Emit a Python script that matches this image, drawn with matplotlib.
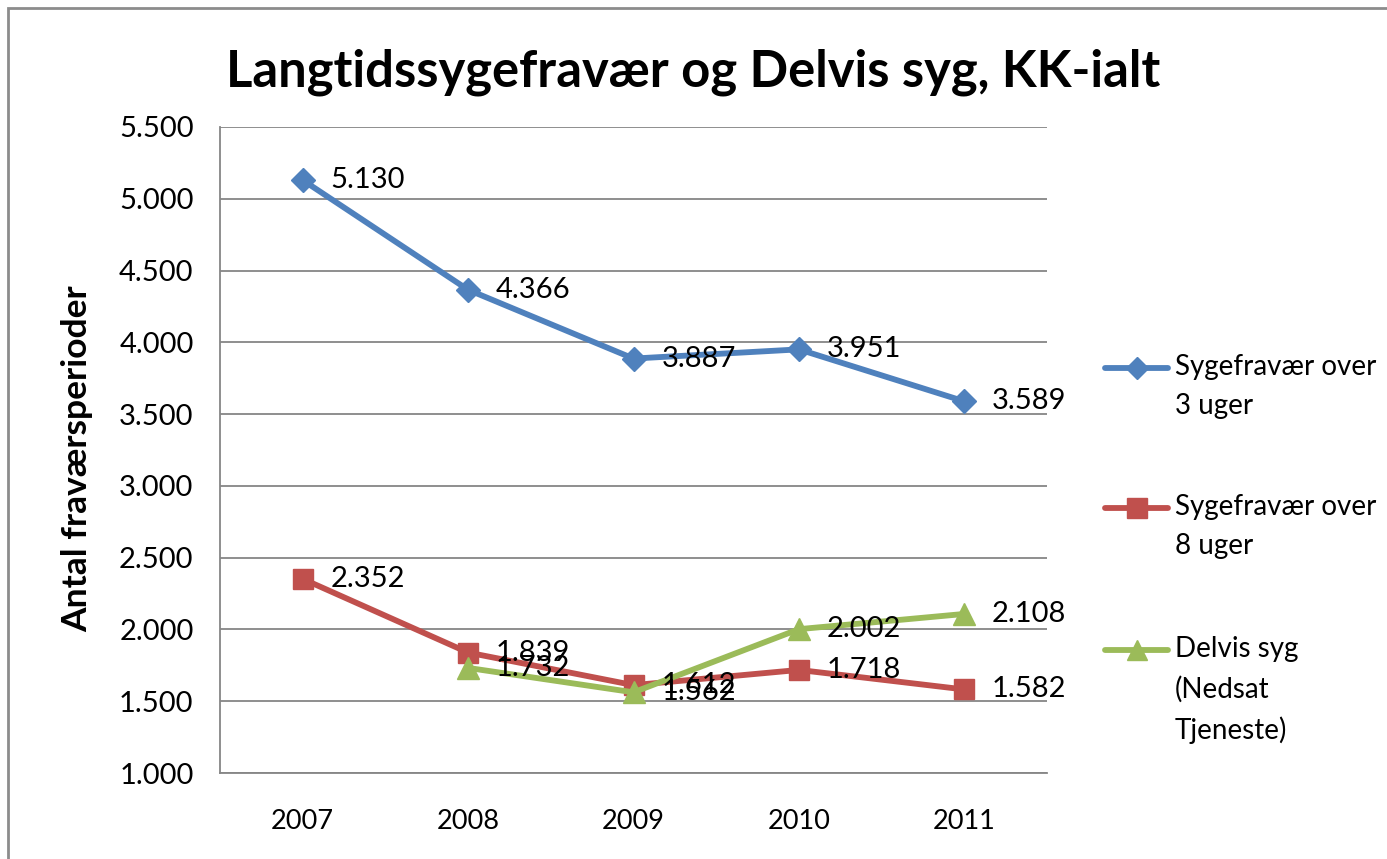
import numpy as np
import matplotlib
matplotlib.use("Agg")
import matplotlib.pyplot as plt
from matplotlib.lines import Line2D
from matplotlib.patches import Rectangle
from matplotlib.ticker import FuncFormatter

plt.rcParams['font.family'] = ['Lato', 'DejaVu Sans']

years = ['2007', '2008', '2009', '2010', '2011']
over_3_uger = [5130, 4366, 3887, 3951, 3589]
over_8_uger = [2352, 1839, 1612, 1718, 1582]
delvis_syg = [np.nan, 1732, 1562, 2002, 2108]

series_names = ['Sygefravær over\n3 uger', 'Sygefravær over\n8 uger', 'Delvis syg\n(Nedsat\nTjeneste)']
colors = ['#4F81BD', '#C0504D', '#9BBB59']
markers = ['D', 's', '^']
msizes = [12, 15, 16]

W, H = 1387, 859
fig = plt.figure(figsize=(W / 100, H / 100), dpi=100)

# outer chart frame (right/bottom edges fall outside the picture)
fig.add_artist(Rectangle((8 / W, -0.05), 1.1, 1 - 8 / H + 0.05, transform=fig.transFigure,
                         fill=False, edgecolor='#8c8c8c', linewidth=2))

ax = fig.add_axes([220 / W, 86 / H, 827 / W, 646 / H])
x = np.arange(len(years))

def dk(v):
    return f'{v:,.0f}'.replace(',', '.')

for vals, c, m, ms in zip([over_3_uger, over_8_uger, delvis_syg], colors, markers, msizes):
    ax.plot(x, vals, color=c, linewidth=4.2, marker=m, markersize=ms, zorder=3)
    for xi, v in zip(x, vals):
        if np.isnan(v):
            continue
        ax.annotate(dk(v), (xi, v), xytext=(20, 0), textcoords='offset points',
                    ha='left', va='center', fontsize=21, color='black', zorder=4)

ax.set_xlim(-0.5, len(years) - 0.5)
ax.set_ylim(1000, 5500)
ax.set_yticks(np.arange(1000, 5501, 500))
ax.yaxis.set_major_formatter(FuncFormatter(lambda v, p: dk(v)))
ax.set_xticks(x)
ax.set_xticklabels(years)
ax.tick_params(axis='y', length=0, labelsize=21, pad=19)
ax.tick_params(axis='x', length=0, labelsize=19.5, pad=26)
ax.grid(axis='y', color='#868686', linewidth=1.3)
ax.set_axisbelow(True)
for s in ['top', 'right']:
    ax.spines[s].set_visible(False)
for s in ['left', 'bottom']:
    ax.spines[s].set_color('#868686')
    ax.spines[s].set_linewidth(1.3)

fig.text(77 / W, 1 - 459 / H, 'Antal fraværsperioder', rotation=90,
         ha='center', va='center', fontsize=25.5, fontweight='bold')
fig.text(0.5, 1 - 72 / H, 'Langtidssygefravær og Delvis syg, KK-ialt',
         ha='center', va='center', fontsize=36.5, fontweight='bold')

# legend drawn by hand so the marker sits on the first text line
legend_y = [368, 508, 650]
for name, c, m, ms, ly in zip(series_names, colors, markers, msizes, legend_y):
    yf = 1 - ly / H
    fig.add_artist(Line2D([1105 / W, 1168 / W], [yf, yf], transform=fig.transFigure,
                          color=c, linewidth=4.2, solid_capstyle='round'))
    fig.add_artist(Line2D([1136.5 / W], [yf], transform=fig.transFigure,
                          color=c, marker=m, markersize=ms - 1, linestyle='none'))
    fig.text(1175 / W, yf + 14 / H, name, ha='left', va='top', fontsize=20, linespacing=1.62)

fig.savefig('out.png', dpi=100)
